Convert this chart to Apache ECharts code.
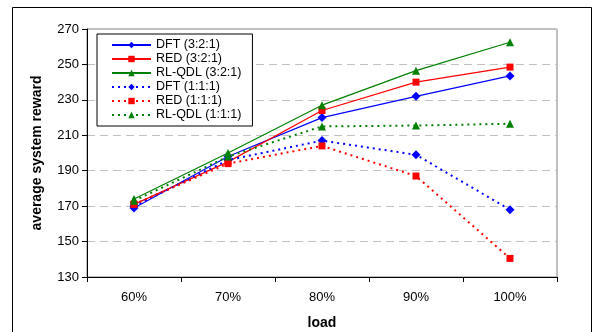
<!DOCTYPE html>
<html><head><meta charset="utf-8">
<script src="https://cdn.jsdelivr.net/npm/echarts@6/dist/echarts.min.js"></script>
<style>html,body{margin:0;padding:0;background:#fff}#c{width:594px;height:332px}</style>
</head><body><div id="c"></div>
<script>
var categories = ['60%', '70%', '80%', '90%', '100%'];
var yTicks = [130, 150, 170, 190, 210, 230, 250, 270];
var dft321 = [169, 198, 220, 232, 243.5];
var red321 = [171, 195, 224, 240, 248.5];
var rl321 = [174, 200, 227, 246.5, 262.5];
var dft111 = [170, 196, 207, 199, 168];
var red111 = [171, 194, 204, 187, 140.5];
var rl111 = [173, 198, 215, 215.5, 216.5];

var font = 'Liberation Sans, Arial, sans-serif';
function mk(name, data, color, symbol, size, dotted) {
  return {
    name: name, type: 'line', data: data,
    symbol: symbol, symbolSize: size,
    itemStyle: {color: color},
    lineStyle: {color: color, width: dotted ? 2 : 1.2, type: dotted ? [2, 4] : 'solid'},
    animation: false
  };
}
var chart = echarts.init(document.getElementById('c'));
chart.setOption({
  animation: false,
  graphic: [{type: 'rect', shape: {x: 12.5, y: 7.5, width: 579, height: 340}, style: {fill: 'none', stroke: '#000', lineWidth: 1}, z: -1}],
  grid: {left: 87, top: 29, right: 37, bottom: 55, show: true, borderColor: '#808080', borderWidth: 1, outerBoundsMode: 'none', containLabel: false},
  legend: {
    orient: 'vertical', left: 97, top: 34,
    backgroundColor: '#fff', borderColor: '#000', borderWidth: 1,
    padding: [4, 11, 4, 14], itemGap: 0, itemWidth: 39, itemHeight: 8,
    textStyle: {fontFamily: font, fontSize: 12.5, color: '#000', lineHeight: 14},
    data: ['DFT (3:2:1)', 'RED (3:2:1)', 'RL-QDL (3:2:1)', 'DFT (1:1:1)', 'RED (1:1:1)', 'RL-QDL (1:1:1)']
  },
  xAxis: {
    type: 'category', data: categories, boundaryGap: true,
    name: 'load', nameLocation: 'middle', nameGap: 39,
    nameTextStyle: {fontFamily: font, fontSize: 14, fontWeight: 'bold', color: '#000'},
    axisLine: {lineStyle: {color: '#000', width: 1}},
    axisTick: {show: true, length: 5, lineStyle: {color: '#000'}},
    axisLabel: {fontFamily: font, fontSize: 13, color: '#000', margin: 14},
    splitLine: {show: false}
  },
  yAxis: {
    type: 'value', min: yTicks[0], max: yTicks[yTicks.length - 1], interval: 20,
    name: 'average system reward', nameLocation: 'middle', nameGap: 43,
    nameTextStyle: {fontFamily: font, fontSize: 14, fontWeight: 'bold', color: '#000'},
    axisLine: {show: true, lineStyle: {color: '#000', width: 1}},
    axisTick: {show: true, length: 5, lineStyle: {color: '#000'}},
    axisLabel: {fontFamily: font, fontSize: 13, color: '#000', margin: 8},
    splitLine: {show: true, lineStyle: {color: '#c0c0c0', type: [8, 5], width: 1}}
  },
  series: [
    mk('DFT (3:2:1)', dft321, '#0000ff', 'diamond', 9, false),
    mk('RED (3:2:1)', red321, '#ff0000', 'rect', 7, false),
    mk('RL-QDL (3:2:1)', rl321, '#008000', 'triangle', 8, false),
    mk('DFT (1:1:1)', dft111, '#0000ff', 'diamond', 9, true),
    mk('RED (1:1:1)', red111, '#ff0000', 'rect', 7, true),
    mk('RL-QDL (1:1:1)', rl111, '#008000', 'triangle', 8, true)
  ]
});
</script></body></html>
